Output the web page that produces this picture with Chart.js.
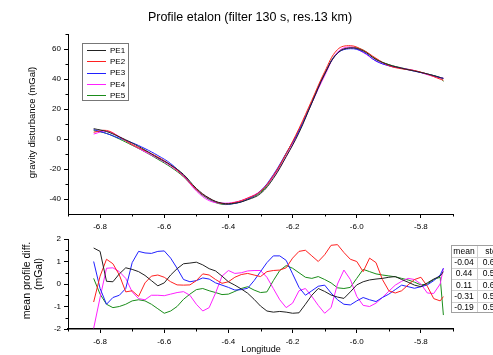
<!DOCTYPE html>
<html>
<head>
<meta charset="utf-8">
<script src="https://cdn.jsdelivr.net/npm/chart.js@4.4.1/dist/chart.umd.min.js"></script>
<style>
html, body { margin: 0; padding: 0; background: #fff; }
#wrap { position: relative; width: 493px; height: 355px; overflow: hidden; }
#cTop { position: absolute; left: 0; top: 0; }
#cBot { position: absolute; left: 0; top: 230px; }
</style>
</head>
<body>
<div id="wrap">
  <canvas id="cTop" width="493" height="235"></canvas>
  <canvas id="cBot" width="493" height="125"></canvas>
</div>
<script>
// ---- data ----
const seriesNames = ["PE1", "PE2", "PE3", "PE4", "PE5"];
const seriesColors = ["#222222", "#ff2020", "#2020ff", "#ff20ff", "#1a8c1a"];

const xTicks = [-6.8, -6.6, -6.4, -6.2, -6.0, -5.8];
const xMinor = [-6.9, -6.7, -6.5, -6.3, -6.1, -5.9, -5.7];
const yTicksTop = [-40, -20, 0, 20, 40, 60];
const yMinorTop = [-30, -10, 10, 30, 50, 70];
const yTicksBot = [-2, -1, 0, 1, 2];
const yMinorBot = [-1.5, -0.5, 0.5, 1.5];

// profile (top panel)
const lonTop = [-6.82, -6.78, -6.74, -6.70, -6.66, -6.62, -6.58, -6.54, -6.50, -6.46, -6.42, -6.38, -6.34, -6.30, -6.26,
                -6.22, -6.18, -6.14, -6.10, -6.06, -6.02, -5.98, -5.94, -5.90, -5.86, -5.82, -5.78, -5.74, -5.73];
const pe1 = [6.9, 5.0, 1.4, -2.7, -7.4, -12.5, -17.3, -23.6, -32.9, -39.4, -42.8, -42.8, -40.5, -36.4, -26.3,
             -11.8, 4.2, 24.0, 43.2, 57.2, 60.7, 58.7, 53.0, 49.5, 47.2, 45.3, 43.4, 41.0, 40.4];
const pe2 = [4.5, 5.7, 1.4, -3.7, -7.8, -12.0, -17.4, -24.6, -33.6, -39.6, -43.0, -42.3, -39.4, -34.9, -24.4,
             -9.8, 7.0, 25.8, 44.8, 59.6, 62.2, 59.2, 53.8, 48.9, 46.8, 45.6, 43.2, 39.9, 39.2];
const pe3 = [6.3, 3.7, 0.5, -2.5, -6.4, -11.0, -16.4, -24.3, -33.6, -39.8, -43.1, -42.9, -40.1, -34.7, -23.8,
             -9.5, 5.4, 24.2, 43.5, 57.1, 60.2, 58.0, 52.0, 48.8, 47.1, 45.2, 43.3, 41.0, 40.5];
const pe4 = [3.3, 5.3, 1.6, -3.8, -8.5, -12.9, -18.0, -24.8, -34.6, -41.1, -42.7, -42.1, -39.3, -34.6, -25.2,
             -11.6, 5.2, 24.0, 42.2, 57.8, 61.3, 57.7, 52.0, 48.9, 47.2, 45.6, 42.9, 40.6, 40.5];
const pe5 = [5.6, 3.7, 0.0, -4.2, -8.6, -13.5, -18.7, -25.2, -34.0, -40.3, -43.5, -42.9, -40.0, -35.6, -24.9,
             -9.7, 6.0, 24.8, 43.7, 57.6, 61.0, 59.3, 53.3, 49.6, 47.4, 45.5, 43.3, 40.9, 38.4];

// differences from the mean profile (bottom panel)
const lonDiff = [-6.82, -6.80, -6.78, -6.76, -6.74, -6.72, -6.70, -6.68, -6.66, -6.64, -6.62, -6.60, -6.58, -6.56,
                 -6.54, -6.52, -6.50, -6.48, -6.46, -6.44, -6.42, -6.40, -6.38, -6.36, -6.34, -6.32, -6.30, -6.28,
                 -6.26, -6.24, -6.22, -6.20, -6.18, -6.16, -6.14, -6.12, -6.10, -6.08, -6.06, -6.04, -6.02, -6.00,
                 -5.98, -5.96, -5.94, -5.92, -5.90, -5.88, -5.86, -5.84, -5.82, -5.80, -5.78, -5.76, -5.74, -5.73];
const diff1 = [1.6, 1.45, 0.12, 0.1, 0.45, 0.72, 0.65, 0.55, 0.38, 0.15, -0.08, 0.05, 0.4, 0.68,
               0.9, 0.93, 0.97, 0.85, 0.68, 0.58, 0.35, 0.1, -0.05, -0.22, -0.41, -0.68, -0.98, -1.2,
               -1.25, -1.22, -1.25, -1.3, -1.28, -0.9, -0.5, -0.2, -0.33, -0.49, -0.58, -0.64, -0.35, -0.04,
               0.1, 0.18, 0.22, 0.25, 0.3, 0.33, 0.2, 0.08, -0.05, -0.12, 0.05, 0.22, 0.35, 0.55];
const diff2 = [-0.8, 0.35, 1.1, 0.9, 0.4, -0.35, -0.3, -0.55, 0.05, 0.35, 0.4, 0.3, 0.1, -0.04,
               -0.05, -0.04, 0.15, 0.45, 0.4, 0.2, 0.03, 0.1, 0.3, 0.42, 0.47, 0.4, 0.33, 0.55,
               0.6, 0.62, 0.72, 1.15, 1.45, 1.5, 1.25, 1.0, 1.3, 1.72, 1.75, 1.4, 1.1, 1.0,
               0.55, 1.15, 0.95, 0.2, -0.3, -0.4, -0.3, -0.04, 0.2, 0.3, -0.1, -0.65, -0.75, -0.56];
const diff3 = [1.0, -0.2, -0.9, -0.6, -0.5, -0.2, 0.95, 1.45, 1.38, 1.36, 1.45, 1.47, 1.15, 0.7,
               0.2, 0.1, 0.15, 0.27, 0.22, 0.05, -0.05, -0.15, -0.27, -0.25, -0.19, 0.15, 0.55, 0.95,
               1.25, 1.25, 1.05, 0.45, -0.15, -0.5, -0.3, -0.1, -0.05, -0.4, -0.7, -0.9, -0.93, -0.75,
               -0.6, -0.7, -0.78, -0.6, -0.45, -0.25, -0.05, -0.12, -0.19, -0.12, -0.04, 0.15, 0.4, 0.7];
const diff4 = [-1.97, -0.6, 0.7, 0.72, 0.55, 0.25, -0.35, -0.65, -0.7, -0.5, -0.5, -0.52, -0.45, -0.38,
               -0.34, -0.5, -0.9, -1.2, -1.05, -0.4, 0.35, 0.6, 0.47, 0.5, 0.58, 0.6, 0.6, 0.3,
               -0.2, -0.7, -1.05, -0.85, -0.3, -0.2, -0.55, -0.95, -1.3, -1.05, 0.0, 0.62, 0.2, -0.55,
               -0.95, -1.0, -0.85, -0.6, -0.32, -0.05, 0.12, 0.25, 0.2, 0.0, -0.4, -0.42, 0.0, 0.7];
const diff5 = [0.25, -0.45, -0.9, -1.05, -1.0, -0.9, -0.75, -0.7, -0.75, -0.9, -1.1, -1.3, -1.2, -1.0,
               -0.68, -0.45, -0.25, -0.2, -0.3, -0.38, -0.47, -0.45, -0.33, -0.2, -0.12, -0.27, -0.38, -0.35,
               0.15, 0.6, 0.82, 0.7, 0.5, 0.3, 0.25, 0.33, 0.2, 0.05, -0.17, -0.2, -0.15, 0.25,
               0.65, 0.55, 0.45, 0.4, 0.36, 0.32, 0.25, 0.18, 0.08, -0.04, 0.0, 0.2, 0.3, -1.38];

// statistics table
const statMean = ["-0.04", "0.44", "0.11", "-0.31", "-0.19"];
const statStd = ["0.62", "0.55", "0.61", "0.53", "0.54"];

const titleText = "Profile etalon (filter 130 s, res.13 km)";
const yTitleTop = "gravity disturbance (mGal)";
const yTitleBot = ["mean profile diff.", "(mGal)"];
const xTitleBot = "Longitude";

// ---- charts ----
const FONT = '"Liberation Sans", Arial, sans-serif';
Chart.defaults.font.family = FONT;
Chart.defaults.color = "#000";

function makeSets(lon, arrays, width, tension) {
  return arrays.map((arr, i) => ({
    label: seriesNames[i],
    data: lon.map((x, j) => ({ x: x, y: arr[j] })),
    borderColor: seriesColors[i],
    borderWidth: width,
    pointRadius: 0,
    fill: false,
    tension: tension
  }));
}

function minorTicks(ctx, chart, xs, ys) {
  const sx = chart.scales.x, sy = chart.scales.y;
  ctx.strokeStyle = "#000";
  ctx.lineWidth = 1;
  ctx.beginPath();
  xs.forEach(v => {
    const px = Math.round(sx.getPixelForValue(v)) + 0.5;
    ctx.moveTo(px, sx.top);
    ctx.lineTo(px, sx.top + 2.5);
  });
  ys.forEach(v => {
    const py = Math.round(sy.getPixelForValue(v)) + 0.5;
    ctx.moveTo(sy.right, py);
    ctx.lineTo(sy.right - 2.5, py);
  });
  ctx.stroke();
}

function axes(yMin, yMax, yTicks, xBorder, xHeight) {
  return {
    x: {
      type: "linear", min: -6.9, max: -5.7,
      afterBuildTicks: s => { s.ticks = xTicks.map(v => ({ value: v })); },
      afterFit: s => { s.height = xHeight; },
      ticks: { font: { size: 8 }, padding: 3.5, maxRotation: 0, callback: v => v.toFixed(1) },
      grid: { drawOnChartArea: false, drawTicks: true, tickLength: 4, tickColor: "#000" },
      border: { color: "#000", width: xBorder }
    },
    y: {
      type: "linear", min: yMin, max: yMax,
      afterBuildTicks: s => { s.ticks = yTicks.map(v => ({ value: v })); },
      afterFit: s => { s.width = 68; },
      ticks: { font: { size: 8 }, padding: 3, callback: v => String(v) },
      grid: { drawOnChartArea: false, drawTicks: true, tickLength: 4, tickColor: "#000" },
      border: { color: "#000", width: 1 }
    }
  };
}

const topDeco = {
  id: "topDeco",
  afterDraw(chart) {
    const ctx = chart.ctx;
    ctx.save();
    minorTicks(ctx, chart, xMinor, yMinorTop);
    ctx.fillStyle = "#000";
    ctx.textAlign = "center";
    ctx.textBaseline = "middle";
    ctx.font = "12.5px " + FONT;
    ctx.fillText(titleText, 250, 18);
    ctx.save();
    ctx.translate(32.5, 122.5);
    ctx.rotate(-Math.PI / 2);
    ctx.font = "9.5px " + FONT;
    ctx.fillText(yTitleTop, 0, 0);
    ctx.restore();
    // legend box
    ctx.strokeStyle = "#777";
    ctx.lineWidth = 1;
    ctx.strokeRect(82.5, 43.5, 46, 57);
    ctx.font = "8px " + FONT;
    ctx.textAlign = "left";
    chart.data.datasets.forEach((ds, i) => {
      const yy = 50 + i * 11.3;
      ctx.strokeStyle = ds.borderColor;
      ctx.beginPath();
      ctx.moveTo(87, Math.round(yy) + 0.5);
      ctx.lineTo(106, Math.round(yy) + 0.5);
      ctx.stroke();
      ctx.fillStyle = "#000";
      ctx.fillText(ds.label, 110, yy + 0.5);
    });
    ctx.restore();
  }
};

const botDeco = {
  id: "botDeco",
  afterDraw(chart) {
    const ctx = chart.ctx;
    const off = 230; // canvas top in page
    ctx.save();
    minorTicks(ctx, chart, xMinor, yMinorBot);
    ctx.fillStyle = "#000";
    ctx.textAlign = "center";
    ctx.textBaseline = "middle";
    ctx.font = "9px " + FONT;
    ctx.fillText(xTitleBot, 261, 350 - off);
    ctx.font = "10.5px " + FONT;
    ctx.save();
    ctx.translate(27, 280.5 - off);
    ctx.rotate(-Math.PI / 2);
    ctx.fillText(yTitleBot[0], 0, 0);
    ctx.restore();
    ctx.save();
    ctx.translate(39, 274 - off);
    ctx.rotate(-Math.PI / 2);
    ctx.fillText(yTitleBot[1], 0, 0);
    ctx.restore();
    // stats table
    const left = 451.5, top = 245.5 - off, rh = 11.2, c1 = 477.5, right = 520;
    const rows = statMean.length + 1;
    ctx.fillStyle = "#fff";
    ctx.fillRect(left, top, right - left, rows * rh);
    ctx.strokeStyle = "#d0d0d0";
    ctx.lineWidth = 1;
    ctx.beginPath();
    for (let r = 1; r < rows; r++) {
      const yy = Math.round(top + r * rh) + 0.5;
      ctx.moveTo(left, yy); ctx.lineTo(right, yy);
    }
    ctx.moveTo(c1, top); ctx.lineTo(c1, top + rows * rh);
    ctx.stroke();
    ctx.strokeStyle = "#a0a0a0";
    ctx.strokeRect(left, top, right - left, Math.round(rows * rh));
    ctx.fillStyle = "#000";
    ctx.font = "8.5px " + FONT;
    ctx.fillText("mean", 464, top + rh / 2 + 0.5);
    ctx.fillText("std", 491, top + rh / 2 + 0.5);
    statMean.forEach((m, i) => {
      const yy = top + (i + 1.5) * rh + 0.5;
      ctx.fillText(m, 464, yy);
      ctx.fillText(statStd[i], 491, yy);
    });
    ctx.restore();
  }
};

new Chart(document.getElementById("cTop"), {
  type: "line",
  data: { datasets: makeSets(lonTop, [pe1, pe2, pe3, pe4, pe5], 1, 0.4) },
  options: {
    responsive: false,
    animation: false,
    layout: { padding: { left: 0, right: 40, top: 34, bottom: 0 } },
    plugins: { legend: { display: false }, title: { display: false }, tooltip: { enabled: false } },
    scales: axes(-50, 70, yTicksTop, 1, 235 - 214),
    events: []
  },
  plugins: [topDeco]
});

new Chart(document.getElementById("cBot"), {
  type: "line",
  data: { datasets: makeSets(lonDiff, [diff1, diff2, diff3, diff4, diff5], 1, 0) },
  options: {
    responsive: false,
    animation: false,
    layout: { padding: { left: 0, right: 40, top: 9, bottom: 0 } },
    plugins: { legend: { display: false }, title: { display: false }, tooltip: { enabled: false } },
    scales: axes(-2, 2, yTicksBot, 1.5, 355 - 329),
    events: []
  },
  plugins: [botDeco]
});
</script>
</body>
</html>
